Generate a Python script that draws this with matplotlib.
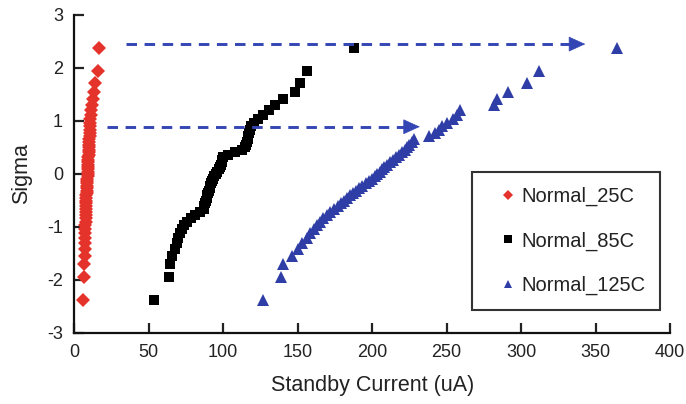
import matplotlib
matplotlib.use("Agg")
import matplotlib.pyplot as plt

plt.rcParams["font.family"] = ["Liberation Sans", "DejaVu Sans"]
plt.rcParams["axes.unicode_minus"] = False

# Normal-probability positions (sigma) shared by the three sample sets
sigma = [-2.375, -1.938, -1.707, -1.543, -1.412, -1.302, -1.206, -1.119, -1.040,
         -0.967, -0.899, -0.835, -0.774, -0.716, -0.661, -0.607, -0.555, -0.504,
         -0.455, -0.407, -0.359, -0.313, -0.267, -0.222, -0.177, -0.132, -0.088,
         -0.044, 0.0, 0.044, 0.088, 0.132, 0.177, 0.222, 0.267, 0.313, 0.359,
         0.407, 0.455, 0.504, 0.555, 0.607, 0.661, 0.716, 0.774, 0.835, 0.899,
         0.967, 1.040, 1.119, 1.206, 1.302, 1.412, 1.543, 1.707, 1.938, 2.375]

# Standby current (uA), sorted, for each temperature
current_25c = [6.0, 6.5, 6.8, 7.0, 7.1, 7.2, 7.3, 7.4, 7.5, 7.6, 7.7, 7.8, 7.8,
               7.9, 8.0, 8.0, 8.1, 8.2, 8.3, 8.3, 8.4, 8.5, 8.5, 8.6, 8.7, 8.8,
               8.9, 9.0, 9.0, 9.1, 9.2, 9.3, 9.4, 9.5, 9.5, 9.6, 9.7, 9.8, 9.9,
               10.0, 10.1, 10.2, 10.3, 10.4, 10.5, 10.6, 10.7, 10.8, 11.0, 11.3,
               11.6, 12.0, 12.6, 13.2, 14.2, 15.8, 16.8]

current_85c = [53.5, 63.5, 64.5, 66.0, 67.5, 69.0, 70.0, 71.0, 72.5, 74.0, 76.0,
               78.5, 81.0, 84.5, 87.0, 87.5, 88.0, 88.5, 89.0, 89.5, 90.0, 90.5,
               91.0, 91.5, 92.0, 92.5, 93.5, 94.0, 95.0, 96.0, 97.0, 98.0, 98.5,
               99.0, 99.5, 100.0, 103.0, 108.0, 113.0, 115.0, 115.5, 116.0, 116.5,
               117.0, 117.5, 118.0, 119.0, 121.0, 123.5, 127.0, 131.0, 135.0,
               140.0, 148.0, 151.5, 156.0, 187.5]

current_125c = [127.0, 139.0, 140.5, 146.0, 150.0, 153.0, 156.0, 158.5, 161.0,
                163.0, 165.0, 167.0, 170.0, 172.0, 174.5, 177.0, 179.0, 181.0,
                183.0, 185.0, 187.0, 189.0, 191.0, 193.5, 196.0, 198.0, 200.0,
                202.0, 203.5, 205.0, 206.5, 208.0, 210.0, 212.0, 214.0, 216.0,
                218.0, 220.0, 222.0, 223.5, 225.0, 226.5, 228.0, 238.0, 242.0,
                245.0, 247.0, 250.0, 254.0, 257.0, 259.0, 282.0, 284.0, 291.0,
                304.0, 312.0, 364.0]

series_labels = ["Normal_25C", "Normal_85C", "Normal_125C"]

# Shift arrows (sigma level, start current, arrow tip current)
arrow_sigma = [2.45, 0.89]
arrow_start = [35.0, 22.0]
arrow_tip = [343.0, 232.0]

x_ticks = [0, 50, 100, 150, 200, 250, 300, 350, 400]
y_ticks = [-3, -2, -1, 0, 1, 2, 3]

red = "#E4332A"
blue = "#2F3DA6"
arrow_blue = "#3446B4"

fig = plt.figure(figsize=(6.86, 4.04), dpi=100)
ax = fig.add_axes([0.108, 0.176, 0.869, 0.787])

ax.plot(current_25c, sigma, linestyle="none", marker="D", markersize=7.0,
        color=red, markeredgewidth=0, label=series_labels[0])
ax.plot(current_85c, sigma, linestyle="none", marker="s", markersize=7.4,
        color="black", markeredgewidth=0, label=series_labels[1])
ax.plot(current_125c, sigma, linestyle="none", marker="^", markersize=8.8,
        color=blue, markeredgewidth=0, label=series_labels[2])

for ys, x0, x1 in zip(arrow_sigma, arrow_start, arrow_tip):
    head_len = 10.0  # data units of the arrow head
    ax.plot([x0, x1 - head_len], [ys, ys], color=arrow_blue, lw=2.1,
            linestyle=(0, (3.6, 2.6)), dash_capstyle="butt")
    ax.annotate("", xy=(x1, ys), xytext=(x1 - head_len, ys),
                arrowprops=dict(arrowstyle="-|>,head_length=1.1,head_width=0.5",
                                color=arrow_blue, lw=0.5, shrinkA=0, shrinkB=0))

ax.set_xlim(0, 400)
ax.set_ylim(-3, 3)
ax.set_xticks(x_ticks)
ax.set_yticks(y_ticks)
ax.tick_params(direction="in", length=7, width=1.6, labelsize=13,
               colors="#222222", pad=8)
for side in ("top", "right"):
    ax.spines[side].set_visible(False)
for side in ("left", "bottom"):
    ax.spines[side].set_linewidth(1.6)
    ax.spines[side].set_color("#111111")

ax.set_xlabel("Standby Current (uA)", fontsize=15.5, color="#222222", labelpad=10)
ax.set_ylabel("Sigma", fontsize=15.5, color="#222222", labelpad=11)

leg = ax.legend(loc="upper left", bbox_to_anchor=(0.667, 0.506), fontsize=14.5,
                frameon=True, fancybox=False, borderpad=0.75, labelspacing=1.25,
                handlelength=2.15, handletextpad=-0.45, markerscale=0.7,
                borderaxespad=0)
leg.get_frame().set_edgecolor("black")
leg.get_frame().set_linewidth(1.5)
for t in leg.get_texts():
    t.set_color("#222222")

fig.savefig("out.png", dpi=100)
